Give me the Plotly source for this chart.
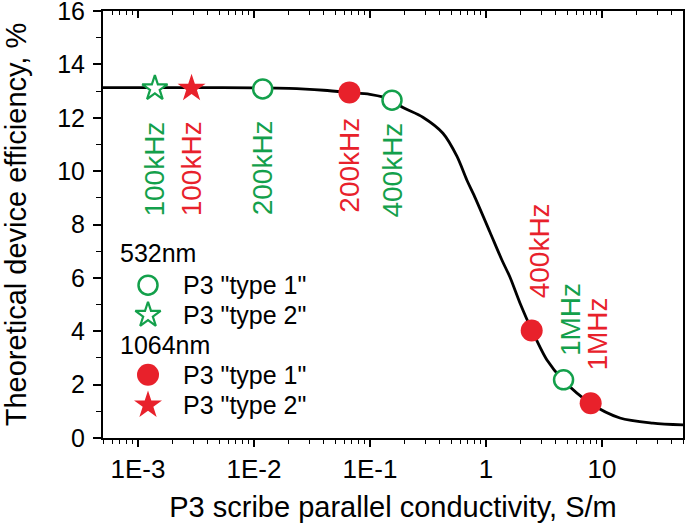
import plotly.graph_objects as go
import numpy as np

# ---- data ----
curve_x = [5e-4, 1e-3, 3e-3, 1e-2, 2e-2, 4e-2, 0.0666, 0.1, 0.155, 0.1875, 0.286,
           0.426, 0.562, 0.686, 0.789, 1.082, 1.373, 1.61, 1.965, 2.49, 3.36,
           4.62, 7.88, 14.3, 27.5, 50]
curve_y = [13.13, 13.13, 13.13, 13.12, 13.10, 13.03, 12.95, 12.88, 12.68, 12.41, 12.02,
           11.42, 10.56, 9.66, 9.10, 7.72, 6.67, 6.03, 5.06, 4.04, 2.92,
           2.17, 1.31, 0.75, 0.56, 0.49]

g1_x = [0.0119, 0.155, 4.67]       # 532nm type 1
g1_y = [13.08, 12.66, 2.18]
g1_lab = ["200kHz", "400kHz", "1MHz"]
g2_x = [1.4e-3]                     # 532nm type 2
g2_y = [13.1]
g2_lab = ["100kHz"]
r1_x = [0.0666, 2.48, 8.0]          # 1064nm type 1
r1_y = [12.95, 4.03, 1.30]
r1_lab = ["200kHz", "400kHz", "1MHz"]
r2_x = [2.9e-3]                     # 1064nm type 2
r2_y = [13.1]
r2_lab = ["100kHz"]

x_tickvals = [1e-3, 1e-2, 1e-1, 1, 10]
x_ticktext = ["1E-3", "1E-2", "1E-1", "1", "10"]

legend_groups = ["532nm", "1064nm"]
legend_items = ['P3 "type 1"', 'P3 "type 2"']

GREEN = "#13a04b"
RED = "#e8212b"
FONT = "Arial, Liberation Sans, sans-serif"

g1_marker = dict(symbol="circle", size=19, color="white", line=dict(color=GREEN, width=2.5))
g2_marker = dict(symbol="star", size=19, color="white", line=dict(color=GREEN, width=2.2))
r1_marker = dict(symbol="circle", size=22, color=RED, line=dict(color=RED, width=0))
r2_marker = dict(symbol="star", size=21, color=RED, line=dict(color=RED, width=0))

fig = go.Figure()
fig.add_trace(go.Scatter(x=curve_x, y=curve_y, mode="lines",
                         line=dict(color="black", width=2.8, shape="spline", smoothing=0.8),
                         showlegend=False, hoverinfo="skip"))
fig.add_trace(go.Scatter(x=g1_x, y=g1_y, mode="markers", marker=g1_marker, showlegend=False))
fig.add_trace(go.Scatter(x=g2_x, y=g2_y, mode="markers", marker=g2_marker, showlegend=False))
fig.add_trace(go.Scatter(x=r1_x, y=r1_y, mode="markers", marker=r1_marker, showlegend=False))
fig.add_trace(go.Scatter(x=r2_x, y=r2_y, mode="markers", marker=r2_marker, showlegend=False))

# rotated frequency labels
label_specs = [
    (g2_x[0], 10.09, g2_lab[0], GREEN, 0),
    (r2_x[0], 10.09, r2_lab[0], RED, 0),
    (g1_x[0], 10.13, g1_lab[0], GREEN, 0),
    (r1_x[0], 10.22, r1_lab[0], RED, 0),
    (g1_x[1], 10.02, g1_lab[1], GREEN, 1),
    (r1_x[1], 7.02, r1_lab[1], RED, 8),
    (g1_x[2], 4.44, g1_lab[2], GREEN, 7),
    (r1_x[2], 3.90, r1_lab[2], RED, 7),
]
for x, y, t, c, dx in label_specs:
    fig.add_annotation(x=np.log10(x), y=y, text=t, textangle=-90, showarrow=False,
                       xanchor="center", yanchor="middle", xshift=dx,
                       font=dict(family=FONT, size=28, color=c))

# ---- manual legend (on a hidden helper axis spanning the plot area) ----
leg_title_x = 0.026
leg_marker_x = 0.0776
leg_text_x = 0.135
leg_rows = [0.433, 0.358, 0.288, 0.218, 0.148, 0.077]
leg_markers = [g1_marker, g2_marker, r1_marker, r2_marker]
row = 0
mi = 0
for gname in legend_groups:
    fig.add_annotation(xref="paper", yref="paper", x=leg_title_x, y=leg_rows[row], text=gname,
                       showarrow=False, xanchor="left", yanchor="middle",
                       font=dict(family=FONT, size=25, color="black"))
    row += 1
    for item in legend_items:
        fig.add_trace(go.Scatter(x=[leg_marker_x], y=[leg_rows[row]], xaxis="x3", yaxis="y3",
                                 mode="markers", marker=leg_markers[mi], showlegend=False,
                                 hoverinfo="skip", cliponaxis=False))
        fig.add_annotation(xref="paper", yref="paper", x=leg_text_x, y=leg_rows[row], text=item,
                           showarrow=False, xanchor="left", yanchor="middle",
                           font=dict(family=FONT, size=25, color="black"))
        row += 1
        mi += 1

minor_vals = [m * 10.0 ** e for e in range(-4, 2) for m in range(2, 10)]
axis_common = dict(showgrid=False, zeroline=False, linecolor="black", linewidth=2,
                   tickcolor="black", tickwidth=1.5, automargin=False)
fig.update_layout(
    width=685, height=526,
    margin=dict(l=103, r=2, t=11, b=88),
    paper_bgcolor="white", plot_bgcolor="white",
    font=dict(family=FONT, size=25, color="black"),
    showlegend=False,
    xaxis=dict(type="log", range=[np.log10(5e-4), np.log10(50)], tickvals=x_tickvals, ticktext=x_ticktext,
               ticks="outside", ticklen=7, mirror=True, showline=True, ticklabeloverflow="allow",
               minor=dict(ticks="outside", ticklen=4, tickwidth=1.2, tickcolor="black", tickvals=minor_vals),
               title=dict(text="P3 scribe parallel conductivity, S/m", font=dict(size=29), standoff=13),
               tickfont=dict(size=26), **axis_common),
    xaxis2=dict(type="log", range=[np.log10(5e-4), np.log10(50)], overlaying="x", side="top",
                matches="x", tickvals=x_tickvals, showticklabels=False, ticks="inside", ticklen=7,
                tickcolor="black", tickwidth=1.5, showline=False, showgrid=False, zeroline=False,
                automargin=False,
                minor=dict(ticks="inside", ticklen=4, tickwidth=1.2, tickcolor="black", tickvals=minor_vals)),
    xaxis3=dict(range=[0, 1], domain=[0, 1], anchor="y3", overlaying="x", visible=False, fixedrange=True),
    yaxis3=dict(range=[0, 1], domain=[0, 1], anchor="x3", overlaying="y", visible=False, fixedrange=True),
    yaxis=dict(range=[0, 16], dtick=2, ticks="outside", ticklen=8, mirror=True, showline=True,
               ticklabeloverflow="allow",
               minor=dict(ticks="outside", ticklen=5, dtick=1, tickwidth=1.2, tickcolor="black"),
               title=dict(text="Theoretical device efficiency, %", font=dict(size=29), standoff=38),
               tickfont=dict(size=25), ticklabelstandoff=3, **axis_common),
)
# dummy trace to activate top axis
fig.add_trace(go.Scatter(x=[1e-3], y=[0], xaxis="x2", mode="markers", marker=dict(opacity=0),
                         showlegend=False, hoverinfo="skip"))

fig.write_html("out.html", config={"displayModeBar": False},
               post_script="document.body.style.margin='0';document.body.style.overflow='hidden';")
